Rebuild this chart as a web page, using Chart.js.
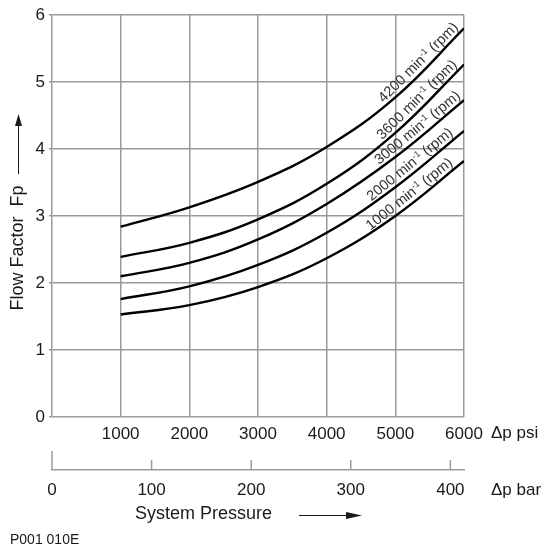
<!DOCTYPE html>
<html>
<head>
<meta charset="utf-8">
<script src="https://cdn.jsdelivr.net/npm/chart.js@4"></script>
<style>
html, body { margin: 0; padding: 0; background: #fff; }
#wrap { width: 547px; height: 549px; }
</style>
</head>
<body>
<div id="wrap"><canvas id="myChart" width="547" height="549"></canvas></div>
<script>
// system pressure (psi) and flow factor Fp for each speed
var psi = [1000, 2000, 3000, 4000, 5000, 6000];
var rpm4200 = [2.84, 3.13, 3.51, 4.03, 4.77, 5.80];
var rpm3600 = [2.39, 2.60, 2.95, 3.48, 4.24, 5.26];
var rpm3000 = [2.10, 2.30, 2.65, 3.18, 3.88, 4.73];
var rpm2000 = [1.76, 1.95, 2.27, 2.75, 3.43, 4.27];
var rpm1000 = [1.53, 1.67, 1.94, 2.37, 3.00, 3.82];
var speeds = ['4200', '3600', '3000', '2000', '1000'];
var psiTicks = [1000, 2000, 3000, 4000, 5000, 6000];
var fpTicks = [0, 1, 2, 3, 4, 5, 6];
var barTicks = [0, 100, 200, 300, 400];
var psiPerBar = 14.5038;

var FONT = "'Liberation Sans', Arial, sans-serif";
var GRID = '#9a9a9a';
var INK = '#1a1a1a';

Chart.defaults.font.family = FONT;
Chart.defaults.color = INK;

var allSeries = [rpm4200, rpm3600, rpm3000, rpm2000, rpm1000];
var datasets = allSeries.map(function(vals, i) {
    return {
        label: speeds[i] + ' min-1 (rpm)',
        data: psi.map(function(p, j) { return {x: p, y: vals[j]}; }),
        borderColor: '#000',
        borderWidth: 2.4,
        pointRadius: 0,
        fill: false,
        tension: 0.4
    };
});

// where along each curve its label sits (psi)
var labelAt = [5420, 5400, 5400, 5290, 5280];

function arrowHead(ctx, x, y, dir) {
    ctx.beginPath();
    if (dir == 'up') {
        ctx.moveTo(x, y);
        ctx.lineTo(x - 3.5, y + 12);
        ctx.lineTo(x + 3.5, y + 12);
    } else {
        ctx.moveTo(x, y);
        ctx.lineTo(x - 16, y - 3.5);
        ctx.lineTo(x - 16, y + 3.5);
    }
    ctx.closePath();
    ctx.fill();
}

function plain(v) { return String(v); }

var extras = {
    id: 'extras',
    afterDraw: function(chart) {
        var ctx = chart.ctx;
        var xs = chart.scales.x;
        var bar = chart.scales.bar;
        ctx.save();
        ctx.fillStyle = INK;
        ctx.strokeStyle = INK;

        // y title + arrow
        ctx.save();
        ctx.translate(18, 248);
        ctx.rotate(-Math.PI / 2);
        ctx.font = '18px ' + FONT;
        ctx.textAlign = 'center';
        ctx.textBaseline = 'middle';
        ctx.fillText('Flow Factor  Fp', 0, 0);
        ctx.restore();
        ctx.lineWidth = 1;
        ctx.beginPath();
        ctx.moveTo(18.5, 174);
        ctx.lineTo(18.5, 125);
        ctx.stroke();
        arrowHead(ctx, 18.5, 114, 'up');

        // unit labels
        ctx.font = '17px ' + FONT;
        ctx.textAlign = 'left';
        ctx.textBaseline = 'middle';
        ctx.fillText('\u0394p psi', 491, 433);
        ctx.fillText('\u0394p bar', 491, 490);

        // x title + arrow
        ctx.font = '18px ' + FONT;
        ctx.fillText('System Pressure', 135, 514);
        ctx.beginPath();
        ctx.moveTo(299, 515.5);
        ctx.lineTo(350, 515.5);
        ctx.stroke();
        arrowHead(ctx, 362, 515.5, 'right');

        ctx.font = '14px ' + FONT;
        ctx.fillText('P001 010E', 10, 540);

        // bar axis tick marks (pointing up)
        ctx.strokeStyle = GRID;
        ctx.lineWidth = 1.5;
        barTicks.forEach(function(v) {
            var px = bar.getPixelForValue(v);
            ctx.beginPath();
            ctx.moveTo(px, bar.top);
            ctx.lineTo(px, bar.top - (v == 0 ? 19 : 10));
            ctx.stroke();
        });

        // curve labels
        ctx.fillStyle = '#333';
        ctx.textBaseline = 'alphabetic';
        chart.data.datasets.forEach(function(ds, i) {
            var pts = chart.getDatasetMeta(i).data;
            var a = pts[4], b = pts[5];
            var ang = Math.atan2(b.y - a.y, b.x - a.x);
            var cx = xs.getPixelForValue(labelAt[i]);
            var t = (cx - a.x) / (b.x - a.x);
            var cy = a.y + t * (b.y - a.y);
            var p1 = speeds[i] + ' min', p2 = '-1', p3 = ' (rpm)';
            ctx.font = '14.5px ' + FONT;
            var w1 = ctx.measureText(p1).width, w3 = ctx.measureText(p3).width;
            ctx.font = '9px ' + FONT;
            var w2 = ctx.measureText(p2).width;
            var w = w1 + w2 + w3;
            ctx.save();
            ctx.translate(cx, cy);
            ctx.rotate(ang);
            var x0 = -w / 2, y0 = -4;
            ctx.textAlign = 'left';
            ctx.font = '14.5px ' + FONT;
            ctx.fillText(p1, x0, y0);
            ctx.font = '9px ' + FONT;
            ctx.fillText(p2, x0 + w1, y0 - 5);
            ctx.font = '14.5px ' + FONT;
            ctx.fillText(p3, x0 + w1 + w2, y0);
            ctx.restore();
        });
        ctx.restore();
    }
};

var ctx = document.getElementById('myChart').getContext('2d');
var myChart = new Chart(ctx, {
    type: 'line',
    data: { datasets: datasets },
    plugins: [extras],
    options: {
        responsive: false,
        animation: false,
        layout: { padding: { left: 0, top: 15, right: 83, bottom: 39 } },
        plugins: { legend: { display: false }, tooltip: { enabled: false } },
        scales: {
            x: {
                type: 'linear',
                position: 'bottom',
                min: 0,
                max: 6000,
                afterBuildTicks: function(s) { s.ticks = psiTicks.map(function(v) { return {value: v}; }); },
                grid: { color: GRID, lineWidth: 1.5, drawTicks: false },
                border: { display: false },
                ticks: { padding: 7, font: { size: 17 }, color: INK, maxRotation: 0, autoSkip: false, callback: plain },
                afterFit: function(s) { s.height = 53; }
            },
            bar: {
                type: 'linear',
                position: 'bottom',
                min: 0,
                max: 6000 / psiPerBar,
                afterBuildTicks: function(s) { s.ticks = barTicks.map(function(v) { return {value: v}; }); },
                grid: { display: false, drawTicks: false },
                border: { display: true, color: GRID, width: 1.5 },
                ticks: { padding: 10, font: { size: 17 }, color: INK, maxRotation: 0, autoSkip: false, callback: plain },
                afterFit: function(s) { s.height = 40; }
            },
            y: {
                type: 'linear',
                min: 0,
                max: 6,
                afterBuildTicks: function(s) { s.ticks = fpTicks.map(function(v) { return {value: v}; }); },
                grid: { color: GRID, lineWidth: 1.5, tickLength: 3 },
                border: { display: true, color: GRID, width: 1.5 },
                ticks: { padding: 4, font: { size: 17 }, color: INK, callback: plain },
                afterFit: function(s) { s.height = s.height; s.width = 52; }
            }
        }
    }
});
</script>
</body>
</html>
